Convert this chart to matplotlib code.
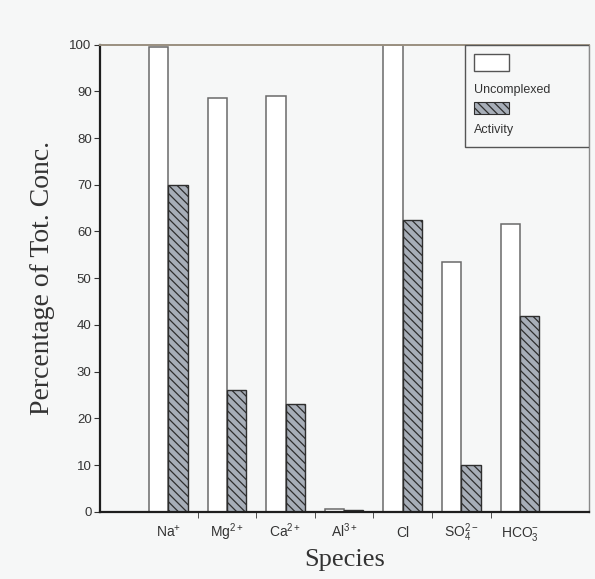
import numpy as np
import matplotlib
matplotlib.use("Agg")
import matplotlib.pyplot as plt
from matplotlib.patches import Rectangle

# --- data ---
species = [r"Na$^{+}$", r"Mg$^{2+}$", r"Ca$^{2+}$", r"Al$^{3+}$", "Cl",
           r"SO$_4^{2-}$", r"HCO$_3^{-}$"]
uncomplexed = [99.5, 88.5, 89, 0.5, 100, 53.5, 61.5]
activity = [70, 26, 23, 0.4, 62.5, 10, 42]
yticks = [0, 10, 20, 30, 40, 50, 60, 70, 80, 90, 100]

plt.rcParams["font.family"] = ["Liberation Sans", "DejaVu Sans"]
plt.rcParams["mathtext.fontset"] = "custom"
plt.rcParams["mathtext.rm"] = "Liberation Sans"
plt.rcParams["mathtext.it"] = "Liberation Sans:italic"
plt.rcParams["hatch.color"] = "#3c3f55"
plt.rcParams["hatch.linewidth"] = 0.9

bg = "#f6f7f7"
fig = plt.figure(figsize=(5.95, 5.79), dpi=100, facecolor=bg)
ax = fig.add_axes([0.168, 0.116, 0.822, 0.807], facecolor=bg)

x = np.arange(1, len(species) + 1)
w = 0.33
ax.bar(x - w / 2, uncomplexed, w, color="white", edgecolor="#6a6a6a",
       linewidth=1.1, label="Uncomplexed", zorder=2)
ax.bar(x + w / 2, activity, w, color="#a7aeb8", edgecolor="#2e2e2e",
       linewidth=1.0, hatch="\\\\\\\\", label="Activity", zorder=2)

ax.set_xlim(-0.167, 8.18)
ax.set_ylim(0, 100)
ax.set_yticks(yticks)
ax.set_xticks(x)
ax.set_xticklabels(species, fontsize=10, color="#333333")
for lab in ax.get_xticklabels():
    lab.set_va("baseline")
ax.set_xticks(x[:-1] + 0.5, minor=True)
ax.tick_params(axis="x", which="major", length=0, pad=18)
ax.tick_params(axis="x", which="minor", length=4, direction="out",
               color="#333333")
ax.tick_params(axis="y", length=4, direction="out", labelsize=9.5,
               colors="#333333", pad=2)

for side in ["left", "bottom"]:
    ax.spines[side].set_color("#1e1e1e")
    ax.spines[side].set_linewidth(1.6)
ax.spines["top"].set_color("#9a9080")
ax.spines["top"].set_linewidth(1.4)
ax.spines["right"].set_color("#8a8a8a")
ax.spines["right"].set_linewidth(1.0)

ax.set_ylabel("Percentage of Tot. Conc.", family=["Liberation Serif"],
              fontsize=20, color="#333333", labelpad=10)
ax.set_xlabel("Species", family=["Liberation Serif"], fontsize=19,
              color="#333333", labelpad=4)

# --- legend: patch above its label, boxed in the upper right ---
t = ax.transAxes
ax.add_patch(Rectangle((0.747, 0.78), 0.253, 0.22, transform=t,
                       facecolor=bg, edgecolor="#555555", linewidth=1.0,
                       zorder=3))
ax.add_patch(Rectangle((0.764, 0.944), 0.072, 0.036, transform=t,
                       facecolor="white", edgecolor="#555555",
                       linewidth=1.0, zorder=4))
ax.text(0.765, 0.902, "Uncomplexed", transform=t, fontsize=9,
        color="#333333", va="center", ha="left", zorder=4)
ax.add_patch(Rectangle((0.764, 0.852), 0.072, 0.025, transform=t,
                       facecolor="#a7aeb8", edgecolor="#2e2e2e",
                       hatch="\\\\\\\\", linewidth=0.8, zorder=4))
ax.text(0.765, 0.818, "Activity", transform=t, fontsize=9,
        color="#333333", va="center", ha="left", zorder=4)

fig.savefig("out.png", dpi=100, facecolor=bg)
